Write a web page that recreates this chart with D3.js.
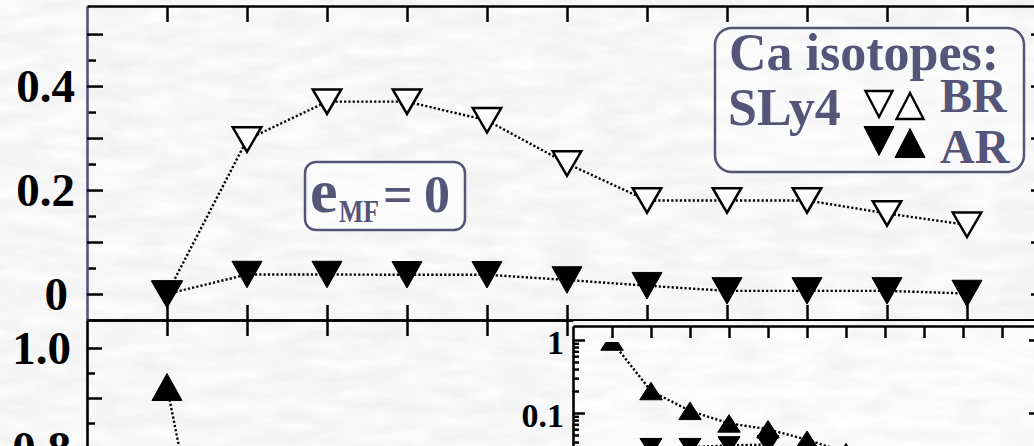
<!DOCTYPE html>
<html>
<head>
<meta charset="utf-8">
<script src="https://cdn.jsdelivr.net/npm/d3@7"></script>
<style>
  html, body { margin: 0; padding: 0; background: #ebebeb; overflow: hidden; }
  svg { display: block; }
  text { font-family: "Liberation Serif", "Times New Roman", serif; font-weight: bold; }
</style>
</head>
<body>
<svg id="fig" width="1034" height="446"></svg>
<script>
// ---- data ----
const slots = [1, 2, 3, 4, 5, 6, 7, 8, 9, 10, 11];
// upper panel, down-pointing triangles
const brTop = [0, 0.297, 0.370, 0.370, 0.334, 0.251, 0.180, 0.180, 0.180, 0.155, 0.133];
const arTop = [0, 0.0375, 0.0375, 0.037, 0.037, 0.027, 0.016, 0.006, 0.006, 0.006, 0.001];
// lower panel, up-pointing triangles
const arLowSlots = [1, 2];
const arLow = [0.922, 0.13];
// inset (log scale)
const insetUpSlots = [1, 2, 3, 4, 5, 6, 7];
const insetUp = [0.953, 0.20, 0.107, 0.072, 0.060, 0.043, 0.029];
const insetDownSlots = [2, 3, 4, 5];
const insetDown = [0.034, 0.034, 0.036, 0.037];
// tick values
const topMajor = [0, 0.1, 0.2, 0.3, 0.4, 0.5];
const topMinor = [0.05, 0.15, 0.25, 0.35, 0.45];
const topLabels = [0, 0.2, 0.4];
const lowMajor = [0.8, 0.9, 1.0];
const lowMinor = [0.85, 0.95];
const lowLabels = [0.8, 1.0];
const insetMajor = [0.01, 0.1, 1];
const insetMinor = [0.02, 0.03, 0.04, 0.05, 0.06, 0.07, 0.08, 0.09,
                    0.2, 0.3, 0.4, 0.5, 0.6, 0.7, 0.8, 0.9];
const insetLabels = [0.1, 1];

// ---- layout ----
const W = 1034, H = 446;
const plotL = 87, plotR = 1047, plotT = 6, plotMid = 320;
const inset = { left: 573, right: 1041, top: 326, bottom: 559 };
const axisColor = "#000";
const slate = "#55557a";

const svg = d3.select("#fig");
const defs = svg.append("defs");

// granite-like paper texture
function marble(id, offset, seed) {
  const f = defs.append("filter").attr("id", id)
    .attr("x", 0).attr("y", 0).attr("width", "100%").attr("height", "100%");
  f.append("feTurbulence").attr("type", "fractalNoise")
    .attr("baseFrequency", "0.022 0.07").attr("numOctaves", 4).attr("seed", seed);
  const o = offset;
  f.append("feColorMatrix").attr("type", "matrix")
    .attr("values", `0.15 0 0 0 ${o}  0.15 0 0 0 ${o}  0.15 0 0 0 ${o + 0.004}  0 0 0 0 1`);
}
marble("marble", 0.855, 11);
marble("marbleLight", 0.88, 5);

defs.append("clipPath").attr("id", "clipTop").append("rect")
  .attr("x", plotL).attr("y", plotT).attr("width", plotR - plotL).attr("height", plotMid - plotT);
defs.append("clipPath").attr("id", "clipLow").append("rect")
  .attr("x", plotL).attr("y", plotMid).attr("width", plotR - plotL).attr("height", 600);
defs.append("clipPath").attr("id", "clipInset").append("rect")
  .attr("x", inset.left).attr("y", inset.top)
  .attr("width", inset.right - inset.left).attr("height", inset.bottom - inset.top);

svg.append("rect").attr("width", W).attr("height", H).attr("fill", "#eee")
  .attr("filter", "url(#marble)");

// ---- scales ----
const x = d3.scaleLinear().domain([0, 12]).range([plotL, plotR]);
const yTop = d3.scaleLinear().domain([-0.05, 0.554]).range([plotMid, plotT]);
const yLow = d3.scaleLinear().domain([0, 1.056]).range([848, plotMid]);
const xIn = d3.scaleLinear().domain([0, 12]).range([inset.left, inset.right]);
const yIn = d3.scaleLog().domain([0.001, 1.555]).range([inset.bottom, inset.top]);

// ---- markers ----
function tri(w, h, down) {
  const a = w / 2, b = h / 2;
  return down ? `M${-a},${-b}L${a},${-b}L0,${b}Z` : `M${-a},${b}L${a},${b}L0,${-b}Z`;
}
const dotted = { stroke: "#000", width: 2.4, dash: "2.2,2.1" };

function series(g, xs, ys, xScale, yScale) {
  const pts = xs.map((s, i) => [xScale(s), yScale(ys[i])]);
  g.append("path").datum(pts)
    .attr("d", d3.line())
    .attr("fill", "none").attr("stroke", dotted.stroke)
    .attr("stroke-width", dotted.width).attr("stroke-dasharray", dotted.dash);
  return pts;
}
function marks(g, pts, opts) {
  g.selectAll(null).data(pts).enter().append("path")
    .attr("transform", d => `translate(${d[0]},${d[1]})`)
    .attr("d", tri(opts.w, opts.h, opts.down))
    .attr("fill", opts.open ? "#fff" : "#000")
    .attr("stroke", "#000")
    .attr("stroke-width", opts.open ? 2.5 : 1)
    .attr("stroke-linejoin", "miter");
}

// ---- upper panel ----
const gTop = svg.append("g").attr("clip-path", "url(#clipTop)");
const brPts = series(gTop, slots, brTop, x, yTop);
const arPts = series(gTop, slots, arTop, x, yTop);
marks(gTop, brPts, { w: 28.5, h: 24.5, down: true, open: true });
marks(gTop, arPts, { w: 30, h: 26.5, down: true, open: false });

// ---- lower panel ----
const gLow = svg.append("g").attr("clip-path", "url(#clipLow)");
const lowPts = series(gLow, arLowSlots, arLow, x, yLow);
marks(gLow, lowPts, { w: 30, h: 27, down: false, open: false });

// ---- inset ----
svg.append("rect")
  .attr("x", inset.left).attr("y", inset.top)
  .attr("width", inset.right - inset.left).attr("height", inset.bottom - inset.top)
  .attr("fill", "#f4f4f4").attr("filter", "url(#marbleLight)");
const gIn = svg.append("g").attr("clip-path", "url(#clipInset)");
const upIn = series(gIn, insetUpSlots, insetUp, xIn, yIn);
const dnIn = series(gIn, insetDownSlots, insetDown, xIn, yIn);
marks(gIn, dnIn, { w: 22, h: 17.5, down: true, open: false });
marks(gIn, upIn, { w: 22.5, h: 17.5, down: false, open: false });

// ---- axes ----
function finish(g, domainColor, fontSize) {
  g.attr("font-family", null).attr("font-size", null);
  g.select(".domain").attr("stroke", domainColor).attr("stroke-width", 2.6);
  g.selectAll(".tick line").attr("stroke", "#000").attr("stroke-width", 2.5);
  g.selectAll(".tick text").attr("fill", "#000")
    .style("font-size", (fontSize || 47) + "px");
  return g;
}
const lbl = v => (v === 0 ? "0" : (v >= 1 && Number.isInteger(v) ? "1" : String(v)));
const fmtTop = v => (topLabels.includes(v) ? (v === 0 ? "0" : v.toFixed(1)) : "");
const fmtLow = v => (lowLabels.some(l => Math.abs(l - v) < 1e-9) ? v.toFixed(1) : "");

// upper panel: left (slate domain line), top, bottom, right
finish(svg.append("g").attr("transform", `translate(${plotL},0)`)
  .call(d3.axisLeft(yTop).tickValues(topMinor).tickSize(-9).tickSizeOuter(0).tickFormat("")), "none");
const topLeft = finish(svg.append("g").attr("transform", `translate(${plotL},0)`)
  .call(d3.axisLeft(yTop).tickValues(topMajor).tickSize(-16).tickSizeOuter(0)
    .tickPadding(12).tickFormat(fmtTop)), slate);
topLeft.selectAll(".tick text").filter(d => d === 0).attr("x", -19);
finish(svg.append("g").attr("transform", `translate(0,${plotT})`)
  .call(d3.axisTop(x).tickValues(slots).tickSize(-16).tickSizeOuter(0).tickFormat("")), axisColor);
finish(svg.append("g").attr("transform", `translate(0,${plotMid})`)
  .call(d3.axisBottom(x).tickValues(slots).tickSize(-15).tickSizeOuter(0).tickFormat("")), axisColor);
finish(svg.append("g").attr("transform", `translate(${plotR},0)`)
  .call(d3.axisRight(yTop).tickValues(topMajor).tickSize(-16).tickSizeOuter(0).tickFormat("")), axisColor);

// lower panel: left, top
finish(svg.append("g").attr("transform", `translate(${plotL},0)`)
  .call(d3.axisLeft(yLow).tickValues(lowMinor).tickSize(-8).tickSizeOuter(0).tickFormat("")), "none");
finish(svg.append("g").attr("transform", `translate(${plotL},0)`)
  .call(d3.axisLeft(yLow).tickValues(lowMajor).tickSize(-15).tickSizeOuter(0)
    .tickPadding(16).tickFormat(fmtLow)), axisColor);
finish(svg.append("g").attr("transform", `translate(0,${plotMid})`)
  .call(d3.axisTop(x).tickValues(slots).tickSize(-16).tickSizeOuter(0).tickFormat("")), axisColor);

// the inset's opaque face hides the lower panel's top ticks beneath it
svg.append("rect")
  .attr("x", inset.left).attr("y", inset.top)
  .attr("width", inset.right - inset.left).attr("height", 16)
  .attr("fill", "#f4f4f4").attr("filter", "url(#marbleLight)");
svg.append("rect")
  .attr("x", inset.left).attr("y", plotMid + 1.5)
  .attr("width", inset.right - inset.left).attr("height", inset.top - plotMid - 1.5)
  .attr("fill", "#eee").attr("filter", "url(#marble)");

// inset axes
finish(svg.append("g").attr("transform", `translate(${inset.left},0)`)
  .call(d3.axisLeft(yIn).tickValues(insetMinor).tickSize(-6).tickSizeOuter(0).tickFormat("")), "none");
const inLeft = finish(svg.append("g").attr("transform", `translate(${inset.left},0)`)
  .call(d3.axisLeft(yIn).tickValues(insetMajor).tickSize(-12).tickSizeOuter(0)
    .tickPadding(9).tickFormat(v => (insetLabels.includes(v) ? lbl(v) : ""))), axisColor, 34);
inLeft.selectAll(".tick text").attr("dy", "0.4em");
finish(svg.append("g").attr("transform", `translate(0,${inset.top})`)
  .call(d3.axisTop(xIn).tickValues(slots).tickSize(-12).tickSizeOuter(0).tickFormat("")), axisColor);
finish(svg.append("g").attr("transform", `translate(${inset.right},0)`)
  .call(d3.axisRight(yIn).tickValues(insetMinor).tickSize(-6).tickSizeOuter(0).tickFormat("")), "none");
finish(svg.append("g").attr("transform", `translate(${inset.right},0)`)
  .call(d3.axisRight(yIn).tickValues(insetMajor).tickSize(-12).tickSizeOuter(0).tickFormat("")), axisColor);

// ---- annotation: e_MF = 0 ----
const ann = svg.append("g");
ann.append("rect").attr("x", 305).attr("y", 162).attr("width", 160).attr("height", 68)
  .attr("rx", 11).attr("fill", "rgba(255,255,255,0.45)")
  .attr("stroke", slate).attr("stroke-width", 2.5);
ann.append("text").attr("x", 310).attr("y", 212).attr("fill", slate)
  .style("font-size", "62px").text("e");
ann.append("text").attr("x", 339).attr("y", 222).attr("fill", slate)
  .attr("textLength", 40).attr("lengthAdjust", "spacingAndGlyphs")
  .style("font-size", "32px").text("MF");
ann.append("text").attr("x", 383).attr("y", 212).attr("fill", slate)
  .style("font-size", "52px").text("=");
ann.append("text").attr("x", 424).attr("y", 212).attr("fill", slate)
  .style("font-size", "52px").text("0");

// ---- legend ----
const leg = svg.append("g");
leg.append("rect").attr("x", 715).attr("y", 28).attr("width", 309).attr("height", 144)
  .attr("rx", 17).attr("fill", "rgba(255,255,255,0.3)")
  .attr("stroke", slate).attr("stroke-width", 2.5);
leg.append("text").attr("x", 729).attr("y", 70).attr("fill", slate)
  .style("font-size", "52px").text("Ca isotopes:");
leg.append("text").attr("x", 728).attr("y", 125).attr("fill", slate)
  .style("font-size", "52px").text("SLy4");
leg.append("text").attr("x", 940).attr("y", 112).attr("fill", slate)
  .style("font-size", "48px").text("BR");
leg.append("text").attr("x", 940).attr("y", 163).attr("fill", slate)
  .style("font-size", "48px").text("AR");
const legendMarks = [
  { cx: 879, cy: 104, down: true, open: true },
  { cx: 910, cy: 106, down: false, open: true },
  { cx: 879, cy: 141, down: true, open: false },
  { cx: 910, cy: 143, down: false, open: false }
];
leg.selectAll(null).data(legendMarks).enter().append("path")
  .attr("transform", d => `translate(${d.cx},${d.cy})`)
  .attr("d", d => tri(d.open ? 27 : 30, d.open ? 26 : 29, d.down))
  .attr("fill", d => (d.open ? "#fff" : "#000"))
  .attr("stroke", "#000").attr("stroke-width", d => (d.open ? 2.4 : 1));
</script>
</body>
</html>
